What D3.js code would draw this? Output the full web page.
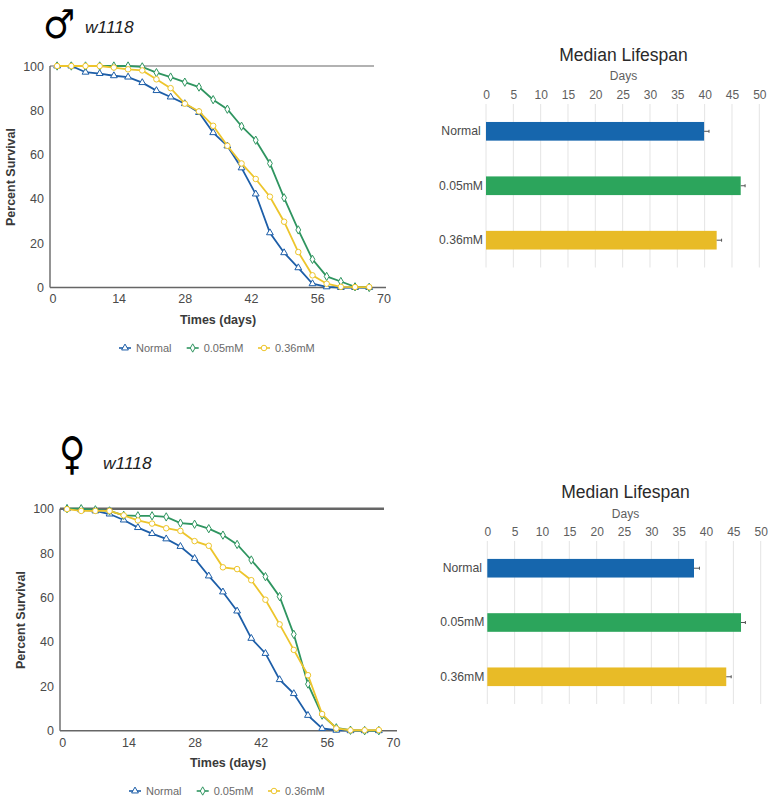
<!DOCTYPE html>
<html>
<head>
<meta charset="utf-8">
<script src="https://cdn.jsdelivr.net/npm/d3@7"></script>
<style>
    html, body { margin: 0; padding: 0; background: #fff; }
    svg { display: block; }
    text { font-family: "Liberation Sans", Arial, sans-serif; }
</style>
</head>
<body>
<div id="chart"></div>
<script>
const days = [1, 4, 7, 10, 13, 16, 19, 22, 25, 28, 31, 34, 37, 40, 43, 46, 49, 52, 55, 58, 61, 64, 67];
const xTicks = [0, 14, 28, 42, 56, 70];
const yTicks = [0, 20, 40, 60, 80, 100];
const dayTicks = [0, 5, 10, 15, 20, 25, 30, 35, 40, 45, 50];
const groups = ['Normal', '0.05mM', '0.36mM'];

const maleNormal = [100, 100, 97.2, 96.6, 95.6, 95, 92.5, 88.9, 86, 83, 79, 69.9, 63.9, 54, 42.2, 24.7, 15.7, 8.9, 1.7, 0.3, 0, 0, 0];
const maleLow = [100, 100, 100, 100, 100, 100, 99.6, 97, 95, 92.7, 90.5, 84.8, 80.5, 72.8, 66.5, 56, 40.5, 26, 12.7, 5, 2.7, 0.3, 0];
const maleHigh = [100, 100, 100, 100, 99.3, 98.5, 98, 94, 90, 83, 79.5, 73, 64, 56, 49, 41, 29.7, 16, 5.5, 1.7, 0.3, 0.2, 0.2];

const femaleNormal = [100, 99.5, 99, 97.6, 94.9, 91.5, 88.8, 86.4, 83, 77.6, 69.7, 62.5, 53.9, 41.6, 34.8, 23, 16.7, 6.9, 1, 0.2, 0, 0, 0];
const femaleLow = [100, 100, 99.5, 99, 97, 96.8, 96.8, 96.3, 93.5, 93, 91, 88.1, 83.9, 76.9, 69.4, 60.4, 43.4, 21, 7, 1.3, 0.2, 0, 0];
const femaleHigh = [99.8, 99, 99, 99, 97, 94.7, 93.3, 91.2, 90, 85.4, 83.3, 73.6, 72.8, 67.8, 59, 47.9, 36.4, 25, 7.5, 1, 0.2, 0.2, 0.3];

const maleMedian = [39.9, 46.6, 42.2];
const maleError = [0.9, 0.8, 0.9];
const femaleMedian = [37.8, 46.4, 43.7];
const femaleError = [1, 0.8, 0.9];

const lineColors = ['#1d5ea8', '#2f9560', '#edc52c'];
const barColors = ['#1666ad', '#2ca55c', '#e8bb27'];
const markers = [d3.symbolTriangle, d3.symbolDiamond, d3.symbolCircle];
const markerSizes = [20, 20, 24];

const svg = d3.select('#chart').append('svg')
    .attr('width', 770)
    .attr('height', 802);

function drawSurvival(values, o) {
    const g = svg.append('g');
    const x = d3.scaleLinear().domain([0, 70]).range([o.x0, o.x1]);
    const y = d3.scaleLinear().domain([0, 100]).range([o.y0, o.y1]);

    g.append('g')
        .attr('transform', 'translate(0,' + o.y0 + ')')
        .call(d3.axisBottom(x).tickValues(xTicks).tickSize(0).tickPadding(7))
        .call(a => a.select('.domain').remove())
        .call(a => a.selectAll('text').attr('font-size', 12.5).attr('fill', '#4a4a4a')
            .attr('font-family', '"Liberation Sans", Arial, sans-serif'));

    g.append('g')
        .attr('transform', 'translate(' + o.left + ',0)')
        .call(d3.axisLeft(y).tickValues(yTicks).tickSize(0).tickPadding(6))
        .call(a => a.select('.domain').remove())
        .call(a => a.selectAll('text').attr('font-size', 12.5).attr('fill', '#4a4a4a')
            .attr('font-family', '"Liberation Sans", Arial, sans-serif'));

    // frame: left, bottom and the 100% line
    g.append('line').attr('x1', o.left).attr('x2', o.left).attr('y1', y(100)).attr('y2', y(0))
        .attr('stroke', '#666').attr('stroke-width', 1.4);
    g.append('line').attr('x1', o.left).attr('x2', o.right).attr('y1', y(0)).attr('y2', y(0))
        .attr('stroke', '#666').attr('stroke-width', 1.4);
    g.append('line').attr('x1', o.left).attr('x2', o.topRight).attr('y1', y(100)).attr('y2', y(100))
        .attr('stroke', '#666').attr('stroke-width', o.topWidth);

    const line = d3.line().x((d, i) => x(days[i])).y(d => y(d));

    values.forEach((series, k) => {
        g.append('path')
            .datum(series)
            .attr('fill', 'none')
            .attr('stroke', lineColors[k])
            .attr('stroke-width', 1.8)
            .attr('d', line);

        g.selectAll('.m' + k)
            .data(series)
            .enter()
            .append('path')
            .attr('class', 'm' + k)
            .attr('transform', (d, i) => 'translate(' + x(days[i]) + ',' + y(d) + ')')
            .attr('d', d3.symbol().type(markers[k]).size(markerSizes[k]))
            .attr('fill', '#fff')
            .attr('stroke', lineColors[k])
            .attr('stroke-width', 1);
    });

    g.append('text')
        .attr('x', o.xTitleX).attr('y', o.xTitleY)
        .attr('text-anchor', 'middle')
        .attr('font-size', 12.5).attr('font-weight', 'bold').attr('fill', '#3a3a3a')
        .text('Times (days)');

    g.append('text')
        .attr('transform', 'translate(' + o.yTitleX + ',' + o.yTitleY + ') rotate(-90)')
        .attr('text-anchor', 'middle')
        .attr('font-size', 12.5).attr('font-weight', 'bold').attr('fill', '#3a3a3a')
        .text('Percent Survival');

    // legend
    groups.forEach((name, k) => {
        const lx = o.legendX[k];
        g.append('line').attr('x1', lx - 6).attr('x2', lx + 6).attr('y1', o.legendY).attr('y2', o.legendY)
            .attr('stroke', lineColors[k]).attr('stroke-width', 1.6);
        g.append('path')
            .attr('transform', 'translate(' + lx + ',' + o.legendY + ')')
            .attr('d', d3.symbol().type(markers[k]).size(markerSizes[k]))
            .attr('fill', '#fff').attr('stroke', lineColors[k]);
        g.append('text')
            .attr('x', lx + 11).attr('y', o.legendY + 4)
            .attr('font-size', 11).attr('fill', '#6a6a6a')
            .text(name);
    });
}

function drawMedian(values, errors, o) {
    const g = svg.append('g');
    const x = d3.scaleLinear().domain([0, 50]).range([o.x0, o.x1]);
    const y = d3.scaleBand().domain(groups).range([o.top, o.bottom]).paddingInner(0.657).paddingOuter(0.33);

    g.selectAll('.grid')
        .data(dayTicks)
        .enter()
        .append('line')
        .attr('class', 'grid')
        .attr('x1', d => x(d)).attr('x2', d => x(d))
        .attr('y1', o.top).attr('y2', o.bottom)
        .attr('stroke', '#e4e4e4').attr('stroke-width', 1);

    g.append('g')
        .attr('transform', 'translate(0,' + o.top + ')')
        .call(d3.axisTop(x).tickValues(dayTicks).tickSize(0).tickPadding(5))
        .call(a => a.select('.domain').remove())
        .call(a => a.selectAll('text').attr('font-size', 12).attr('fill', '#5e5e5e')
            .attr('font-family', '"Liberation Sans", Arial, sans-serif'));

    // category labels are centred on one another in the reference
    g.append('g')
        .attr('transform', 'translate(' + (o.x0 - 25) + ',0)')
        .call(d3.axisLeft(y).tickSize(0).tickPadding(0))
        .call(a => a.select('.domain').remove())
        .call(a => a.selectAll('text').attr('font-size', 12.2).attr('fill', '#4a4a4a')
            .attr('text-anchor', 'middle')
            .attr('font-family', '"Liberation Sans", Arial, sans-serif'));

    g.selectAll('.bar')
        .data(values)
        .enter()
        .append('rect')
        .attr('class', 'bar')
        .attr('x', x(0))
        .attr('y', (d, i) => y(groups[i]))
        .attr('width', d => x(d) - x(0))
        .attr('height', y.bandwidth())
        .attr('fill', (d, i) => barColors[i]);

    g.selectAll('.err')
        .data(values)
        .enter()
        .append('line')
        .attr('class', 'err')
        .attr('x1', d => x(d))
        .attr('x2', (d, i) => x(d + errors[i]))
        .attr('y1', (d, i) => y(groups[i]) + y.bandwidth() / 2)
        .attr('y2', (d, i) => y(groups[i]) + y.bandwidth() / 2)
        .attr('stroke', '#555').attr('stroke-width', 1);

    g.selectAll('.cap')
        .data(values)
        .enter()
        .append('line')
        .attr('class', 'cap')
        .attr('x1', (d, i) => x(d + errors[i]))
        .attr('x2', (d, i) => x(d + errors[i]))
        .attr('y1', (d, i) => y(groups[i]) + y.bandwidth() / 2 - 1.5)
        .attr('y2', (d, i) => y(groups[i]) + y.bandwidth() / 2 + 1.5)
        .attr('stroke', '#555').attr('stroke-width', 1);

    g.append('text')
        .attr('x', o.titleX).attr('y', o.titleY)
        .attr('text-anchor', 'middle')
        .attr('font-size', 17.5).attr('fill', '#2a2a2a')
        .text('Median Lifespan');

    g.append('text')
        .attr('x', o.titleX).attr('y', o.daysY)
        .attr('text-anchor', 'middle')
        .attr('font-size', 12).attr('fill', '#5e5e5e')
        .text('Days');
}

function drawHeader(symbol, s, tx, ty) {
    svg.append('text')
        .attr('transform', 'translate(' + s.x + ',' + s.y + ') scale(' + s.sx + ',' + s.sy + ')')
        .style('font-family', '"DejaVu Sans"')
        .attr('font-size', s.size).attr('fill', '#000')
        .text(symbol);
    svg.append('text')
        .attr('x', tx).attr('y', ty)
        .attr('font-size', 17.4).attr('font-style', 'italic').attr('fill', '#222')
        .text('w1118');
}

drawHeader('\u2642', {x: 43, y: 38, size: 40, sx: 0.9, sy: 1}, 85, 33);
drawHeader('\u2640', {x: 59, y: 469, size: 45, sx: 0.8, sy: 1}, 103, 469);

drawSurvival([maleNormal, maleLow, maleHigh], {
    x0: 52.4, x1: 383.4, y0: 287.5, y1: 66,
    left: 50, right: 386, topRight: 374, topWidth: 1.2,
    xTitleX: 218, xTitleY: 324, yTitleX: 14.5, yTitleY: 177,
    legendX: [125, 192.7, 264], legendY: 348
});

drawSurvival([femaleNormal, femaleLow, femaleHigh], {
    x0: 62.3, x1: 393, y0: 730.7, y1: 508.7,
    left: 60, right: 397, topRight: 384, topWidth: 2.4,
    xTitleX: 228, xTitleY: 767, yTitleX: 24.5, yTitleY: 620,
    legendX: [135, 202.7, 274], legendY: 791
});

drawMedian(maleMedian, maleError, {
    x0: 486, x1: 759.3, top: 104, bottom: 267.5,
    titleX: 623.5, titleY: 60.5, daysY: 80
});

drawMedian(femaleMedian, femaleError, {
    x0: 487.3, x1: 760.7, top: 541, bottom: 704,
    titleX: 625.5, titleY: 498, daysY: 517.5
});
</script>
</body>
</html>
